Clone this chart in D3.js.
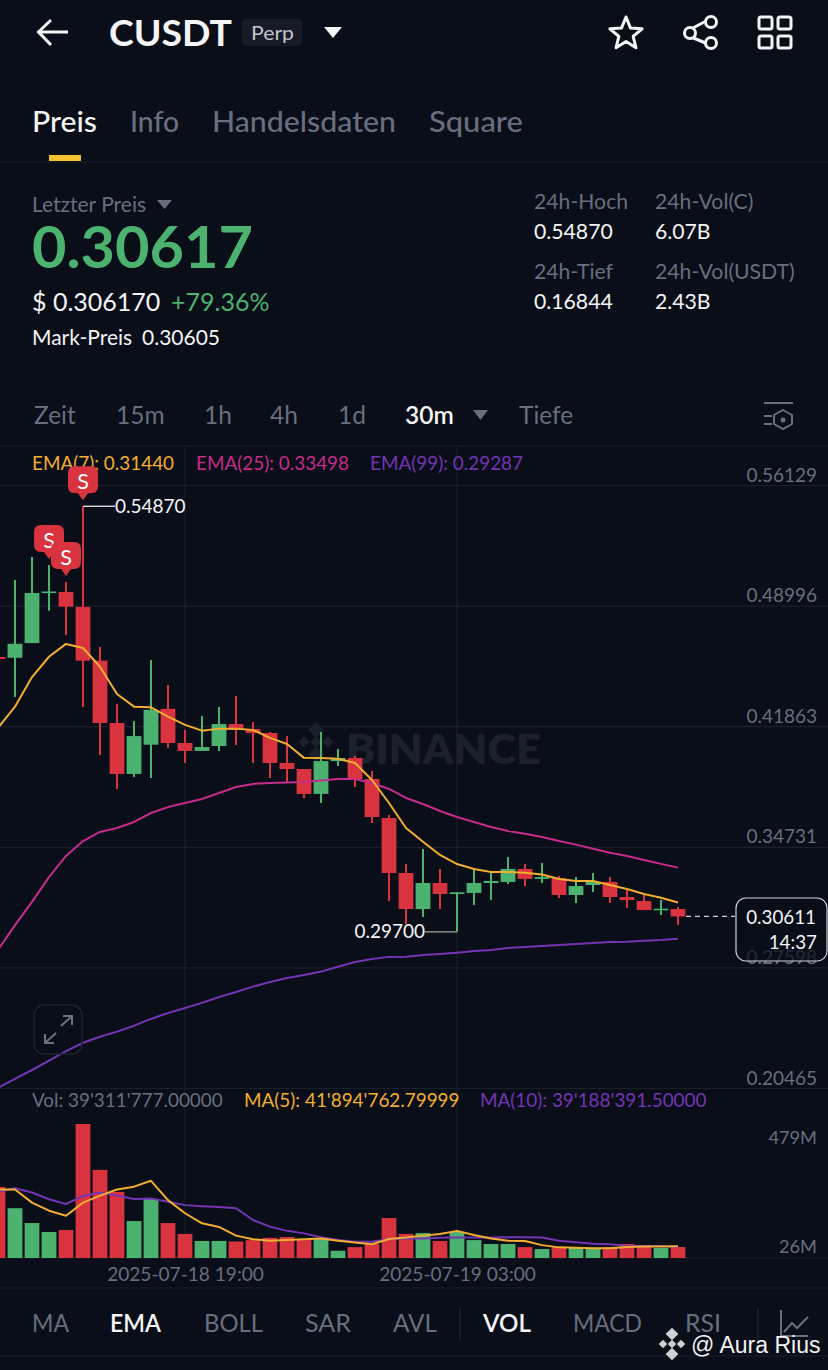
<!DOCTYPE html>
<html><head><meta charset="utf-8">
<style>
html,body{margin:0;padding:0;background:#0a0e18;}
svg{display:block;}
text{font-family:Lato,"Open Sans",sans-serif;}
</style>
<script src="https://cdn.jsdelivr.net/npm/d3@7/dist/d3.min.js"></script>
</head><body><svg id="c" width="828" height="1370"></svg>
<script>
const times=["07-18 13:30","07-18 14:00","07-18 14:30","07-18 15:00","07-18 15:30","07-18 16:00","07-18 16:30","07-18 17:00","07-18 17:30","07-18 18:00","07-18 18:30","07-18 19:00","07-18 19:30","07-18 20:00","07-18 20:30","07-18 21:00","07-18 21:30","07-18 22:00","07-18 22:30","07-18 23:00","07-18 23:30","07-19 00:00","07-19 00:30","07-19 01:00","07-19 01:30","07-19 02:00","07-19 02:30","07-19 03:00","07-19 03:30","07-19 04:00","07-19 04:30","07-19 05:00","07-19 05:30","07-19 06:00","07-19 06:30","07-19 07:00","07-19 07:30","07-19 08:00","07-19 08:30","07-19 09:00","07-19 09:30"];
const open=[.4596,.4591,.4678,.4977,.4980,.4892,.4574,.4205,.3904,.4077,.4289,.4087,.4040,.4069,.4199,.4170,.4146,.3969,.3933,.3786,.3980,.3998,.3874,.3643,.3318,.3105,.3259,.3194,.3200,.3259,.3265,.3342,.3283,.3288,.3188,.3247,.3265,.3176,.3152,.3100,.3105];
const high=[.4620,.5051,.5187,.5140,.5039,.5487,.4655,.4317,.4217,.4578,.4430,.4164,.4247,.4300,.4365,.4211,.4152,.4128,.3933,.4152,.4051,.4010,.3921,.3661,.3371,.3460,.3342,.3204,.3336,.3318,.3413,.3371,.3377,.3300,.3294,.3318,.3294,.3218,.3188,.3158,.3117];
const low=[.4560,.4359,.4678,.4869,.4726,.4300,.4016,.3815,.3886,.3880,.4057,.3969,.4040,.4040,.4075,.3969,.3880,.3850,.3762,.3732,.3951,.3827,.3614,.3152,.3016,.3058,.3105,.2970,.3129,.3158,.3253,.3241,.3259,.3170,.3141,.3206,.3141,.3111,.3099,.3070,.3011];
const close=[.4584,.4674,.4974,.4983,.4893,.4574,.4205,.3904,.4128,.4283,.4087,.4040,.4063,.4199,.4164,.4146,.3969,.3933,.3786,.3980,.3998,.3874,.3649,.3318,.3105,.3259,.3194,.3204,.3259,.3271,.3342,.3283,.3294,.3188,.3241,.3265,.3176,.3158,.3099,.3107,.3061];
const ema7=[.4176,.4302,.4477,.4597,.4673,.4649,.4538,.4377,.4302,.4298,.4243,.4194,.4160,.4172,.4172,.4164,.4117,.4081,.3999,.3998,.3994,.3969,.3868,.3732,.3584,.3503,.3425,.3371,.3342,.3324,.3324,.3320,.3309,.3283,.3271,.3271,.3247,.3223,.3194,.3172,.3144];
const ema25=[.2863,.3010,.3147,.3294,.3419,.3507,.3561,.3584,.3620,.3673,.3708,.3732,.3756,.3791,.3827,.3845,.3850,.3853,.3856,.3865,.3874,.3874,.3850,.3815,.3762,.3726,.3685,.3649,.3620,.3590,.3566,.3550,.3531,.3507,.3486,.3462,.3438,.3419,.3395,.3372,.3350];
const ema99=[.2048,.2100,.2153,.2208,.2265,.2314,.2350,.2380,.2415,.2455,.2490,.2520,.2550,.2585,.2614,.2646,.2673,.2697,.2715,.2735,.2764,.2792,.2810,.2822,.2823,.2833,.2839,.2847,.2857,.2863,.2875,.2880,.2886,.2892,.2898,.2904,.2910,.2912,.2918,.2922,.2929];
const volume=[254,178,125,93,100,479,315,236,132,211,125,86,61,61,59,64,72,75,64,72,26,39,50,143,86,89,61,93,64,50,50,39,32,39,36,36,39,50,39,36,39.3];
const ma5=[245,245,198,169,151,198,223,245,255,276,207,160,124,111,80,67,62,64,67,70,62,55,49,68,73,80,86,97,82,70,62,61,46,38,37,35,35,39,41,41,41.9];
const ma10=[237,249,234,210,193,222,234,223,211,213,201,189,185,182,178,136,112,97,88,74,64,58,58,68,70,70,72,73,73,73,74,74,73,62,56,51,49,43,43,43,39.2];
const priceTicks=[0.56129,0.48996,0.41863,0.34731,0.27598,0.20465];
const volTicks=[479,26];
const dateTicks=["07-18 19:00","07-19 03:00"];
const sellMarks=[5,3,4];
const lastPrice=0.30611, countdown="14:37", hiPrice=0.54870, loPrice=0.29700;

const BG="#0a0e18",GRID="#1a1f2a",DIM="#676f7e",WHITE="#f4f5f6",UP="#4bb26f",DOWN="#d8333f",YEL="#f3ae32",MAG="#c62c8c",PUR="#7434b4";
const svg=d3.select("#c");
svg.append("rect").attr("width",828).attr("height",1370).attr("fill",BG);
const parse=d3.utcParse("%Y-%m-%d %H:%M"),T=s=>parse("2025-"+s);
const x=d3.scaleUtc().domain([T(times[0]),T(times[40])]).range([-2,678]);
const y=d3.scaleLinear().domain([0.56129,0.20465]).range([485,1088]);
const v=d3.scaleLinear().domain([0,479]).range([1258,1124]);
const X=i=>x(T(times[i]));

function txt(s,px,py,size,fill,opt={}){const t=svg.append("text").attr("x",px).attr("y",py).attr("font-size",size).attr("fill",fill).text(s);
 if(opt.w)t.attr("font-weight",opt.w);if(opt.a)t.attr("text-anchor",opt.a);if(opt.f)t.style("font-family",opt.f);if(opt.l!=null)t.attr("textLength",opt.l).attr("lengthAdjust","spacingAndGlyphs");return t;}
function hr(py){svg.append("line").attr("x1",0).attr("x2",828).attr("y1",py).attr("y2",py).attr("stroke",GRID).attr("stroke-width",1.2);}
[162,446,1288,1356].forEach(hr);

// grid and axes
const gy=svg.append("g").call(d3.axisRight(y).tickValues(priceTicks).tickSize(828).tickFormat(d3.format(".5f")));
gy.select(".domain").remove();
gy.selectAll("line").attr("stroke",GRID).attr("stroke-width",1.2);
gy.selectAll("text").attr("x",817).attr("dy",0).attr("y",-4).attr("text-anchor","end").attr("font-size",19).attr("fill",DIM).style("font-family","Lato");
const gv=svg.append("g").call(d3.axisRight(v).tickValues(volTicks).tickSize(0).tickFormat(d=>d+"M"));
gv.select(".domain").remove();
gv.selectAll("text").attr("x",817).attr("dy",0).attr("text-anchor","end").attr("font-size",18.2).attr("fill",DIM).style("font-family","Lato")
  .attr("y",d=>d===479?19:1.5);
svg.append("line").attr("x1",0).attr("x2",828).attr("y1",1258).attr("y2",1258).attr("stroke",GRID).attr("stroke-width",1.2);
const gx=svg.append("g").attr("transform","translate(0,1258)").call(d3.axisBottom(x).tickValues(dateTicks.map(T)).tickSize(0).tickFormat(d3.utcFormat("%Y-%m-%d %H:%M")));
gx.select(".domain").remove();
gx.selectAll("text").attr("y",23).attr("dy",0).attr("font-size",19.1).attr("fill",DIM).style("font-family","Lato");
dateTicks.forEach(d=>{svg.append("line").attr("x1",x(T(d))).attr("x2",x(T(d))).attr("y1",447).attr("y2",1258).attr("stroke",GRID).attr("stroke-width",1.2);});

// watermark
const wm=svg.append("g").attr("fill","#1b202b");
[[316,730,5.5],[304,742,4],[316,742,4],[328,742,4],[316,754,5.5]].forEach(d=>wm.append("rect").attr("x",d[0]-d[2]).attr("y",d[1]-d[2]).attr("width",d[2]*2).attr("height",d[2]*2).attr("transform",`rotate(45 ${d[0]} ${d[1]})`));
txt("BINANCE",346,763.5,41,"#1b202b",{w:800,l:195});

// legend
txt("EMA(7): 0.31440",32,470,18.9,YEL);
txt("EMA(25): 0.33498",196,470,18.9,MAG);
txt("EMA(99): 0.29287",370,470,18.9,PUR);

// lines
const idx=d3.range(times.length);
const lp=d3.line().x(i=>X(i));
function path(arr,sc,col){svg.append("path").attr("d",lp.y(i=>sc(arr[i]))(idx)).attr("fill","none").attr("stroke",col).attr("stroke-width",2).attr("stroke-linejoin","round");}

// candles
const col=i=>close[i]>=open[i]?UP:DOWN;
const cg=svg.append("g");
cg.selectAll("line").data(idx).join("line").attr("x1",X).attr("x2",X).attr("y1",i=>y(high[i])).attr("y2",i=>y(low[i])).attr("stroke",col).attr("stroke-width",2);
cg.selectAll("rect").data(idx).join("rect").attr("x",i=>X(i)-7.4).attr("width",14.8)
  .attr("y",i=>y(Math.max(open[i],close[i]))).attr("height",i=>Math.max(1.6,Math.abs(y(open[i])-y(close[i])))).attr("fill",col);
path(ema25,y,MAG);path(ema99,y,PUR);path(ema7,y,YEL);

// volume
svg.append("g").selectAll("rect").data(idx).join("rect").attr("x",i=>X(i)-7.4).attr("width",14.8)
  .attr("y",i=>v(volume[i])).attr("height",i=>1258-v(volume[i])).attr("fill",col);
path(ma10,v,PUR);path(ma5,v,YEL);
txt("Vol: 39'311'777.00000",32,1107,18.9,DIM);
txt("MA(5): 41'894'762.79999",244,1107,18.9,YEL);
txt("MA(10): 39'188'391.50000",480,1107,18.9,PUR);

// sell pins
sellMarks.forEach(i=>{const px=X(i),py=y(high[i])-6;
 const g=svg.append("g").attr("transform",`translate(${px},${py})`);
 g.append("path").attr("d","M0 0 L-5 -7 L-8 -7 Q-15 -7 -15 -14 L-15 -27 Q-15 -34 -8 -34 L8 -34 Q15 -34 15 -27 L15 -14 Q15 -7 8 -7 L5 -7 Z").attr("fill","#d8333f");
 g.append("text").attr("x",0).attr("y",-11).attr("text-anchor","middle").attr("font-size",21.5).attr("fill","#fff").text("S");
});

// hi/lo labels
const hx=X(5),lx=X(27);
svg.append("line").attr("x1",hx).attr("x2",hx+32).attr("y1",y(hiPrice)).attr("y2",y(hiPrice)).attr("stroke","#d8d8d8").attr("stroke-width",1.4);
txt(hiPrice.toFixed(5),hx+32,y(hiPrice)+6.5,19,WHITE);
svg.append("line").attr("x1",lx).attr("x2",lx-32).attr("y1",y(loPrice)).attr("y2",y(loPrice)).attr("stroke","#999").attr("stroke-width",1.4);
txt(loPrice.toFixed(5),lx-32,y(loPrice)+6.5,19,WHITE,{a:"end"});

// last price
svg.append("line").attr("x1",686).attr("x2",735).attr("y1",y(lastPrice)).attr("y2",y(lastPrice)).attr("stroke","#d0d0d0").attr("stroke-width",1.2).attr("stroke-dasharray","5 4");
svg.append("rect").attr("x",736).attr("y",898).attr("width",91).attr("height",63).attr("rx",10).attr("fill",BG).attr("fill-opacity",.72).attr("stroke","#cfd1d4").attr("stroke-width",1.2);
txt(lastPrice.toFixed(5),816,924,18.8,WHITE,{a:"end"});
txt(countdown,817,949,18.8,WHITE,{a:"end"});

// expand button
svg.append("rect").attr("x",34).attr("y",1005).attr("width",48).attr("height",49).attr("rx",10).attr("fill","none").attr("stroke","#1d222c").attr("stroke-width",1.5);
svg.append("path").attr("d","M61 1026 L72 1016 M63 1016 L72 1016 L72 1025 M56 1033 L45 1043 M45 1034 L45 1043 L54 1043").attr("fill","none").attr("stroke","#6a717d").attr("stroke-width",2);

// header
svg.append("path").attr("d","M68 32 L39 32 M51 20 L38.5 32 L51 45").attr("fill","none").attr("stroke",WHITE).attr("stroke-width",3);
txt("CUSDT",109,46,36,WHITE,{w:700,l:123});
svg.append("rect").attr("x",242).attr("y",19).attr("width",60).attr("height",27).attr("rx",5).attr("fill","#161b25");
txt("Perp",251,40,20,"#c3c6cb",{l:43});
svg.append("path").attr("d","M324 27 H342 L333 38 Z").attr("fill",WHITE);
const star=d3.range(10).map(k=>{const r=k%2?7.5:17,a=-Math.PI/2+k*Math.PI/5;return [626+r*Math.cos(a),34+r*Math.sin(a)];});
svg.append("path").attr("d",d3.line().curve(d3.curveLinearClosed)(star)).attr("fill","none").attr("stroke",WHITE).attr("stroke-width",3).attr("stroke-linejoin","round");
svg.append("path").attr("d","M691 29 L708 20 M691 37 L708 44").attr("stroke",WHITE).attr("stroke-width",3);
[[690,33],[711,22],[711,43]].forEach(c=>svg.append("circle").attr("cx",c[0]).attr("cy",c[1]).attr("r",5.5).attr("fill",BG).attr("stroke",WHITE).attr("stroke-width",3));
[[759,17],[778,17],[759,36],[778,36]].forEach(c=>svg.append("rect").attr("x",c[0]).attr("y",c[1]).attr("width",13).attr("height",12).attr("rx",2).attr("fill","none").attr("stroke",WHITE).attr("stroke-width",3));

// tabs
[["Preis",32,WHITE,65],["Info",130,DIM,49],["Handelsdaten",212,DIM,184],["Square",429,DIM,94]].forEach(d=>txt(d[0],d[1],132,29.5,d[2],{w:500,l:d[3]}));
svg.append("rect").attr("x",49).attr("y",155).attr("width",32).attr("height",6).attr("fill","#f3c22f");

// price panel
txt("Letzter Preis",32,212,21,DIM);
svg.append("path").attr("d","M157 200 H172 L164.5 209 Z").attr("fill",DIM);
txt("0.30617",32,268,57,UP,{w:700,l:221});
txt("$ 0.306170",32,311,25,WHITE);
txt("+79.36%",171,311,25,UP);
txt("Mark-Preis",32,345,21,WHITE);
txt("0.30605",142,345,21,WHITE);
[["24h-Hoch",534,209,DIM],["24h-Vol(C)",655,209,DIM],["0.54870",534,239,WHITE],["6.07B",655,239,WHITE],["24h-Tief",534,279,DIM],["24h-Vol(USDT)",655,279,DIM],["0.16844",534,309,WHITE],["2.43B",655,309,WHITE]].forEach(d=>txt(d[0],d[1],d[2],21.2,d[3]));

// interval row
[["Zeit",34,DIM],["15m",116,DIM],["1h",204,DIM],["4h",270,DIM],["1d",338,DIM],["30m",405,WHITE],["Tiefe",519,DIM]].forEach(d=>txt(d[0],d[1],424,24.5,d[2],{w:d[2]===WHITE?600:400}));
svg.append("path").attr("d","M473 410 H488 L480.5 420 Z").attr("fill",DIM);
svg.append("path").attr("d","M764 403 H793 M764 416 H772 M764 424 H772 M783 410 L792 415 L792 424 L783 429 L774 424 L774 415 Z").attr("fill","none").attr("stroke",DIM).attr("stroke-width",2);
svg.append("circle").attr("cx",783).attr("cy",420).attr("r",2.5).attr("fill",DIM);

// indicator row
[["MA",32,DIM,37],["EMA",110,WHITE,51],["BOLL",204,DIM,59],["SAR",305,DIM,46],["AVL",393,DIM,44],["VOL",483,WHITE,48],["MACD",573,DIM,69],["RSI",685,DIM,36]].forEach(d=>txt(d[0],d[1],1332,24.5,d[2],{w:d[2]===WHITE?600:400,l:d[3]}));
[460,758].forEach(p=>svg.append("line").attr("x1",p).attr("x2",p).attr("y1",1308).attr("y2",1340).attr("stroke","#1d222c").attr("stroke-width",1.5));
svg.append("path").attr("d","M781 1310 V1336 H808 M784 1332 L792 1323 L797 1328 L808 1317").attr("fill","none").attr("stroke",DIM).attr("stroke-width",2);

// author mark
const am=svg.append("g").attr("fill","#d0d2d6");
[[672,1334,4.5],[663,1344,3],[672,1344,3],[681,1344,3],[672,1354,4.5]].forEach(d=>am.append("rect").attr("x",d[0]-d[2]).attr("y",d[1]-d[2]).attr("width",d[2]*2).attr("height",d[2]*2).attr("transform",`rotate(45 ${d[0]} ${d[1]})`));
txt("@ Aura Rius",691,1353,23,"#f2f2f2",{f:"Liberation Sans"});
</script></body></html>
